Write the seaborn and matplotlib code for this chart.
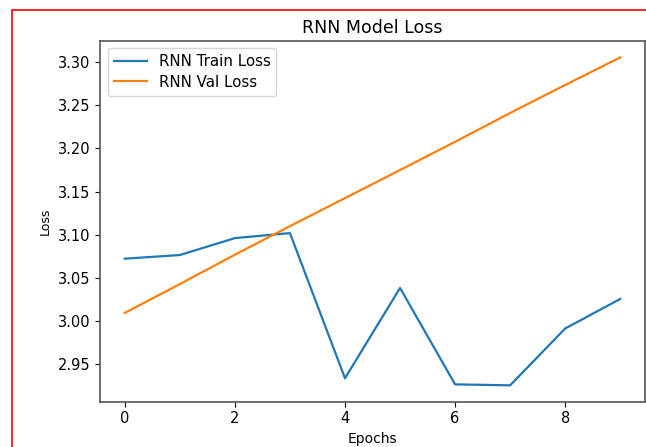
import matplotlib
matplotlib.use("Agg")
import matplotlib.pyplot as plt
import matplotlib.patches as mpatches
import numpy as np
import pandas as pd
import seaborn as sns

# Loss per epoch for the RNN model
epochs = list(range(10))
train_loss = [3.0724, 3.0766, 3.0962, 3.1020, 2.9340, 3.0385, 2.9269, 2.9258, 2.9916, 3.0258]
val_loss = [3.0096, 3.0430, 3.0770, 3.1100, 3.1425, 3.1750, 3.2077, 3.2410, 3.2735, 3.3054]
series_names = ["RNN Train Loss", "RNN Val Loss"]
series_colors = ["#1f77b4", "#ff7f0e"]

df = pd.DataFrame({
    "Epochs": epochs * 2,
    "Loss": train_loss + val_loss,
    "series": [series_names[0]] * len(epochs) + [series_names[1]] * len(epochs),
})

fig = plt.figure(figsize=(6.46, 4.47), dpi=100)
ax = fig.add_axes([0.1548, 0.1013, 0.8437, 0.8070])

sns.lineplot(data=df, x="Epochs", y="Loss", hue="series",
             palette=dict(zip(series_names, series_colors)),
             linewidth=1.6, ax=ax)

ax.set_title("RNN Model Loss", fontsize=12.5, pad=6)
ax.set_xlabel("Epochs", fontsize=10, labelpad=4)
ax.set_ylabel("Loss", fontsize=9, labelpad=4)
ax.tick_params(labelsize=10.5)
ax.set_yticks([2.95, 3.00, 3.05, 3.10, 3.15, 3.20, 3.25, 3.30])
ax.set_xticks([0, 2, 4, 6, 8])
for sp in ax.spines.values():
    sp.set_color("#555555")
    sp.set_linewidth(1.2)

leg = ax.legend(loc="upper left", fontsize=10.8, title=None,
                handlelength=2.2, labelspacing=0.35)

# outer frame of the page
frame = mpatches.Rectangle((12 / 646, -0.2), 1.2, 0.2 + (437 / 447),
                           transform=fig.transFigure, fill=False,
                           edgecolor="red", linewidth=1.2)
fig.patches.append(frame)

fig.savefig("out.png", dpi=100)
